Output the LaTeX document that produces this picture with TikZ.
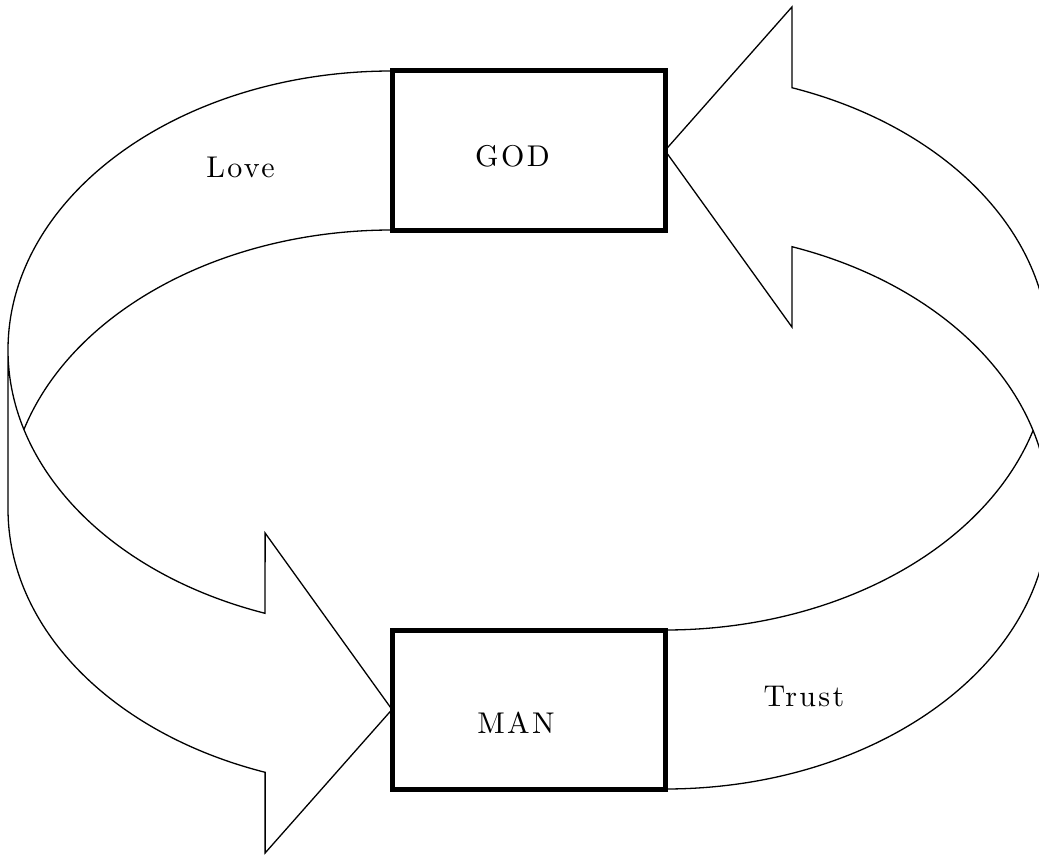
\documentclass[tikz,border=0pt]{standalone}
\usepackage{fontspec}
\newfontfamily\spacedfont[LetterSpace=8]{lmroman10-regular.otf}
\begin{document}
\begin{tikzpicture}[x=1pt,y=-1pt,
  band/.style={line width=1.3pt, line join=miter},
  box/.style={draw, line width=5pt, minimum width=273pt, minimum height=159pt, inner sep=0pt, outer sep=0pt},
  lbl/.style={anchor=base, inner sep=0pt, font=\spacedfont\fontsize{30}{33}\selectfont}]
\useasboundingbox (0,0) rectangle (1039,856);
\fill[white] (0,0) rectangle (1039,856);
\clip (0,0) rectangle (1039,856);

% boxes
\node[box] (god) at (528.5,150.5) {};
\node[box] (man) at (528.5,709.5) {};

% left band (Love), GOD -> MAN
\draw[band] (god.north west)
  arc[start angle=270, end angle=180, x radius=384, y radius=279] coordinate (L1)
  arc[start angle=180, end angle=109.3, x radius=384, y radius=279]
  -- (265.1,533) -- (man.west) -- (265.1,853) -- (265.1,772.3)
  arc[start angle=109.3, end angle=180, x radius=384, y radius=279]
  -- (L1);
\draw[band] (god.south west)
  arc[start angle=270, end angle=196.56, x radius=384, y radius=279];

% right band (Trust), MAN -> GOD
\draw[band] (man.south east)
  arc[start angle=90, end angle=-70.7, x radius=384, y radius=279]
  -- (791.9,327) -- (god.east) -- (791.9,7) -- (791.9,87.7)
  arc[start angle=-70.7, end angle=0, x radius=384, y radius=279]
  -- ++(0,159);
\draw[band] (man.north east)
  arc[start angle=90, end angle=16.56, x radius=384, y radius=279];

% labels
\node[lbl] (love) at (240.5,178) {Love};
\node[lbl] (godtext) at (512.5,167) {GOD};
\node[lbl] (mantext) at (516,733) {MAN};
\node[lbl] (trust) at (804,706) {Trust};
\end{tikzpicture}
\end{document}
